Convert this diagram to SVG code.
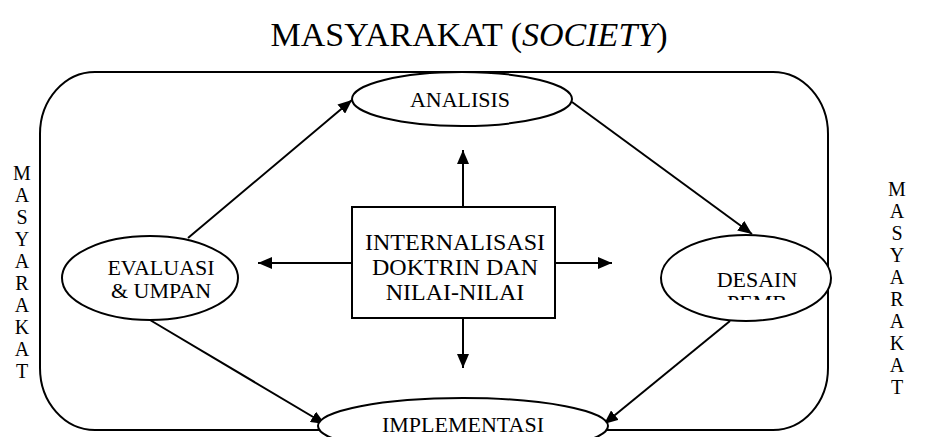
<svg xmlns="http://www.w3.org/2000/svg" width="938" height="437" viewBox="0 0 938 437" font-family="'Liberation Serif', serif">
<style>
text{font-family:'Liberation Serif',serif;fill:#000}
.sh{fill:#fff;stroke:#000;stroke-width:2}
.ln{stroke:#000;stroke-width:2;fill:none}
.side{font-size:20px;text-anchor:middle}
.lbl{font-size:22px;text-anchor:middle}
.box{font-size:24px;text-anchor:middle}
</style>
<defs>
<marker id="ah" viewBox="0 0 14 12" refX="14" refY="6" markerWidth="14" markerHeight="12" markerUnits="userSpaceOnUse" orient="auto">
<path d="M0,0 L14,6 L0,12 z" fill="#000"/>
</marker>
<clipPath id="cDesain"><rect x="660" y="240" width="200" height="60"/></clipPath>
</defs>
<rect width="938" height="437" fill="#fff"/>
<text x="469" y="46" font-size="34" text-anchor="middle">MASYARAKAT (<tspan font-style="italic">SOCIETY</tspan>)</text>
<g id="frame">
<rect class="ln" x="40" y="72" width="788" height="358" rx="55" ry="62"/>
</g>
<g id="side-left" class="side">
<text x="22" y="180">M</text><text x="22" y="202">A</text><text x="22" y="224">S</text><text x="22" y="246">Y</text><text x="22" y="268">A</text><text x="22" y="290">R</text><text x="22" y="312">A</text><text x="22" y="334">K</text><text x="22" y="356">A</text><text x="22" y="378">T</text>
</g>
<g id="side-right" class="side">
<text x="897" y="196">M</text><text x="897" y="218">A</text><text x="897" y="240">S</text><text x="897" y="262">Y</text><text x="897" y="284">A</text><text x="897" y="306">R</text><text x="897" y="328">A</text><text x="897" y="350">K</text><text x="897" y="372">A</text><text x="897" y="394">T</text>
</g>
<g id="connectors" class="ln" marker-end="url(#ah)">
<line x1="188" y1="238" x2="352" y2="100"/>
<line x1="572" y1="102" x2="752" y2="234"/>
<line x1="150" y1="320" x2="325" y2="424"/>
<line x1="730" y1="321" x2="604" y2="424"/>
<line x1="463" y1="207" x2="463" y2="150"/>
<line x1="463" y1="318" x2="463" y2="368"/>
<line x1="352" y1="263" x2="258" y2="263"/>
<line x1="555" y1="263" x2="612" y2="263"/>
</g>
<g id="analisis">
<ellipse class="sh" cx="462" cy="99" rx="110" ry="27"/>
<text class="lbl" x="460" y="107">ANALISIS</text>
</g>
<g id="evaluasi">
<ellipse class="sh" cx="150" cy="278" rx="88" ry="42"/>
<text class="lbl" x="161" y="275" font-size="20">EVALUASI</text>
<text class="lbl" x="161" y="298" font-size="20">&amp; UMPAN</text>
</g>
<g id="desain">
<ellipse class="sh" cx="746" cy="278" rx="85" ry="43"/>
<g clip-path="url(#cDesain)">
<text class="lbl" x="757" y="287" font-size="21">DESAIN</text>
<text class="lbl" x="757" y="310" font-size="21">PEMB</text>
</g>
</g>
<g id="implementasi">
<ellipse class="sh" cx="463" cy="426" rx="145" ry="28"/>
<text class="lbl" x="463" y="432" font-size="23">IMPLEMENTASI</text>
</g>
<g id="internalisasi">
<rect class="sh" x="352" y="207" width="203" height="111"/>
<text class="box" x="455" y="250">INTERNALISASI</text>
<text class="box" x="455" y="275">DOKTRIN DAN</text>
<text class="box" x="455" y="300">NILAI-NILAI</text>
</g>
</svg>
